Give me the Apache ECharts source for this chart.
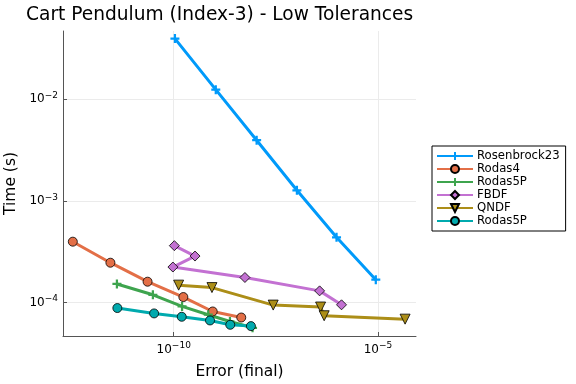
<!DOCTYPE html>
<html>
<head>
<meta charset="utf-8">
<script src="https://cdn.jsdelivr.net/npm/echarts@6/dist/echarts.min.js"></script>
<style>html,body{margin:0;padding:0;background:#fff;}#c{width:576px;height:384px;}</style>
</head>
<body>
<div id="c"></div>
<script>
// Data (actual values, plotted on log10 scale)
const rosenbrockErr = [1.07e-10, 1.07e-9, 1.07e-8, 1.035e-7, 9.66e-7, 8.83e-6];
const rosenbrockTime = [0.0394, 0.01239, 0.00394, 0.001268, 4.37e-4, 1.675e-4];
const rodas4Err = [3.39e-13, 2.82e-12, 2.29e-11, 1.72e-10, 9.0e-10, 4.5e-9];
const rodas4Time = [3.96e-4, 2.46e-4, 1.60e-4, 1.13e-4, 8.15e-5, 7.11e-5];
const rodas5pAErr = [4.07e-12, 3.09e-11, 1.60e-10, 7.0e-10, 2.38e-9, 8.5e-9];
const rodas5pATime = [1.52e-4, 1.19e-4, 9.14e-5, 7.57e-5, 6.5e-5, 5.63e-5];
const fbdfErr = [1.035e-10, 3.32e-10, 9.55e-11, 5.53e-9, 3.72e-7, 1.28e-6];
const fbdfTime = [3.62e-4, 2.86e-4, 2.23e-4, 1.76e-4, 1.30e-4, 9.48e-5];
const qndfErr = [1.32e-10, 8.63e-10, 2.72e-8, 3.93e-7, 4.81e-7, 4.60e-5];
const qndfTime = [1.48e-4, 1.40e-4, 9.42e-5, 9.02e-5, 7.40e-5, 6.85e-5];
const rodas5pBErr = [4.17e-12, 3.31e-11, 1.57e-10, 7.73e-10, 2.42e-9, 7.76e-9];
const rodas5pBTime = [8.81e-5, 7.80e-5, 7.23e-5, 6.65e-5, 6.03e-5, 5.85e-5];
const xTickExps = [-10, -5];
const yTickExps = [-4, -3, -2];
const xRangeExp = [-12.71, -4.07];
const yRangeExp = [-4.33, -1.33];

const toPts = (xs, ys) => xs.map((x, i) => [Math.log10(x), Math.log10(ys[i])]);
const plus = 'path://M3,0H5V3H8V5H5V8H3V5H0V3H3Z';
const font = 'DejaVu Sans';

function mk(name, xs, ys, color, symbol, size, extra) {
  const isPath = symbol.startsWith('path');
  return Object.assign({
    name: name, type: 'line', data: toPts(xs, ys),
    symbol: symbol, symbolSize: size, showSymbol: true,
    lineStyle: {color: color, width: 3},
    itemStyle: {color: color, borderColor: isPath ? color : '#000', borderWidth: isPath ? 0 : 0.8},
    z: 2, animation: false
  }, extra || {});
}

const supLabel = v => '{b|10}{s|\u2212' + Math.abs(Math.round(v)) + '}';
const richLbl = {
  b: {fontSize: 12, fontFamily: font, color: '#000', lineHeight: 17},
  s: {fontSize: 9, fontFamily: font, color: '#000', padding: [0, 0, 7, 0], lineHeight: 17}
};

const chart = echarts.init(document.getElementById('c'));
chart.setOption({
  animation: false,
  title: {text: 'Cart Pendulum (Index-3) - Low Tolerances', left: 21, top: 1,
    textStyle: {fontFamily: font, fontSize: 18.6, fontWeight: 'normal', color: '#000'}},
  grid: {left: 63, top: 31, right: 160, bottom: 48, containLabel: false, outerBoundsMode: 'none'},
  legend: {
    orient: 'vertical', left: 432, top: 146, padding: [4, 6, 4, 4], itemGap: 1,
    itemWidth: 36, itemHeight: 10, borderColor: '#000', borderWidth: 1, backgroundColor: '#fff',
    textStyle: {fontFamily: font, fontSize: 11.7, color: '#000', padding: [0, 0, 0, -1]},
    data: ['Rosenbrock23', 'Rodas4', 'Rodas5P', 'FBDF', 'QNDF', 'Rodas5P ']
  },
  xAxis: {
    type: 'value', min: xRangeExp[0], max: xRangeExp[1],
    name: 'Error (final)', nameLocation: 'middle', nameGap: 28,
    nameTextStyle: {fontFamily: font, fontSize: 15.5, color: '#000'},
    axisLine: {show: true, lineStyle: {color: '#555', width: 1}},
    axisTick: {show: true, inside: true, length: 4, customValues: xTickExps, lineStyle: {color: '#555'}},
    axisLabel: {customValues: xTickExps, formatter: supLabel, rich: richLbl, margin: 5},
    splitLine: {show: true, lineStyle: {color: '#ebebeb', width: 1}}
  },
  yAxis: {
    type: 'value', min: yRangeExp[0], max: yRangeExp[1],
    name: 'Time (s)', nameLocation: 'middle', nameGap: 41,
    nameTextStyle: {fontFamily: font, fontSize: 15.5, color: '#000'},
    axisLine: {show: true, lineStyle: {color: '#555', width: 1}},
    axisTick: {show: true, inside: true, length: 4, customValues: yTickExps, lineStyle: {color: '#555'}},
    axisLabel: {customValues: yTickExps, formatter: supLabel, rich: richLbl, margin: 5},
    splitLine: {show: true, lineStyle: {color: '#ebebeb', width: 1}}
  },
  series: [
    mk('Rosenbrock23', rosenbrockErr, rosenbrockTime, '#009AFA', plus, 9),
    mk('Rodas4', rodas4Err, rodas4Time, '#E36F47', 'circle', 9),
    mk('Rodas5P', rodas5pAErr, rodas5pATime, '#3EA44E', plus, 9),
    mk('FBDF', fbdfErr, fbdfTime, '#C371D2', 'diamond', 10),
    mk('QNDF', qndfErr, qndfTime, '#AC8E18', 'triangle', 10, {symbolRotate: 180}),
    mk('Rodas5P ', rodas5pBErr, rodas5pBTime, '#00AAAE', 'circle', 9)
  ]
});
</script>
</body>
</html>
